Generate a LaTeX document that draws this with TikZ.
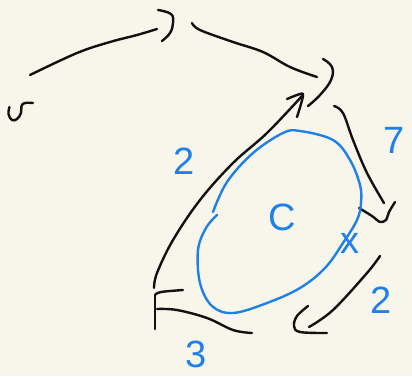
\documentclass[tikz,border=0pt]{standalone}
\usepackage{fontspec}
\setmainfont{Liberation Sans}
\usetikzlibrary{positioning}
\definecolor{paper}{HTML}{F8F6EA}
\definecolor{ink}{HTML}{111111}
\definecolor{penblue}{HTML}{1E80E8}

\begin{document}
\begin{tikzpicture}[
  x=1pt, y=-1pt,
  pen/.style={draw=ink, line width=2.4pt, line cap=round, line join=round},
  bluepen/.style={pen, draw=penblue},
  lbl/.style={text=penblue, font=\fontsize{38}{38}\selectfont, inner sep=0pt}
]
\fill[paper] (0,0) rectangle (412,376);
\useasboundingbox (0,0) rectangle (412,376);

% ends of the strokes
\coordinate (tail) at (30,75);
\coordinate (topA) at (157,29);
\coordinate (topB) at (192,23);
\coordinate (rgtA) at (317,77);
\coordinate (low)  at (154,288);
\coordinate (tipA) at (302,96);
\coordinate (rgtB) at (334,106);
\coordinate (tipB) at (384,203);
\coordinate (rgtC) at (380,256);
\coordinate (tipC) at (309,327);
\coordinate (botA) at (252,333);
\coordinate (botB) at (157,309);

% left mark
\draw[pen] plot[smooth, tension=0.7] coordinates {(33,103) (25,103) (21.5,106) (21,113) (17,119) (12,120) (8.5,114) (9.5,107)};

% top chain
\draw[pen] plot[smooth, tension=0.6] coordinates {(tail) (77,53) (110,42) (137,35) (topA)};
\draw[pen] plot[smooth, tension=0.7] coordinates {(158,10) (171,14) (173,23) (170,33) (162,41)};
\draw[pen] plot[smooth, tension=0.6] coordinates {(topB) (200,30) (233,42) (263,52) (290,67) (rgtA)};
\draw[pen] plot[smooth, tension=0.7] coordinates {(323,59) (332,67) (331,80) (320,95) (308,106)};

% left arrow up
\draw[pen] plot[smooth, tension=0.6] coordinates {(low) (157,273) (173,240) (200,200) (233,163) (267,133) (tipA)};
\draw[pen] plot[smooth, tension=0.5] coordinates {(287,99) (297,95) (303,94) (301,104) (297,117)};

% right arrow down
\draw[pen] plot[smooth, tension=0.6] coordinates {(rgtB) (343,113) (353,140) (367,173) (tipB)};
\draw[pen] plot[smooth, tension=0.5] coordinates {(359,208) (372,216) (380,222) (386,220) (389,212) (395,202)};

% lower right arrow
\draw[pen] plot[smooth, tension=0.6] coordinates {(rgtC) (367,273) (333,310) (tipC)};
\draw[pen] plot[smooth, tension=0.6] coordinates {(308,306) (297,316) (294,326) (300,332) (327,333)};

% bottom
\draw[pen] plot[smooth, tension=0.6] coordinates {(botA) (233,330) (207,318) (177,310) (botB)};
\draw[pen] (155,296) -- (155,329);
\draw[pen] plot[smooth, tension=0.6] coordinates {(155,295) (161,292) (183,290)};

% blue loop
\draw[bluepen] plot[smooth, tension=0.6] coordinates {(213,212) (227,182) (253,153) (283,133) (300,131) (333,140) (350,160) (360,185) (361,203) (357,220) (343,243) (325,268) (300,288) (267,303) (233,313) (212,306) (200,283) (198,250) (206,228) (217,215)};

% labels
\node[lbl] (two)   at (184,161) {2};
\node[lbl] (seven) at (394,140) {7};
\node[lbl] (cee)   at (282,217) {C};
\node[lbl] (ex)    at (350,243) {x};
\node[lbl] (twob)  at (381,300) {2};
\node[lbl] (three) at (196,354) {3};
\end{tikzpicture}
\end{document}
